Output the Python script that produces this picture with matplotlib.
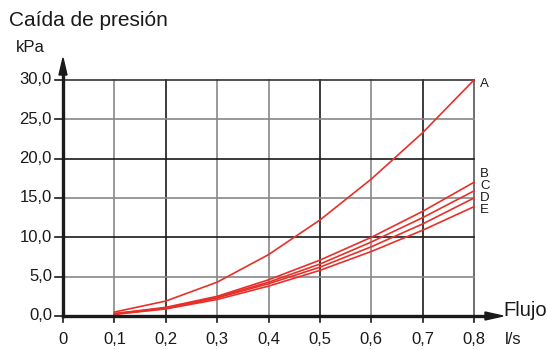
import matplotlib
matplotlib.use("Agg")
import matplotlib.pyplot as plt
from matplotlib.patches import Polygon

plt.rcParams['font.family'] = ['Liberation Sans', 'DejaVu Sans']

flow = [0.1, 0.2, 0.3, 0.4, 0.5, 0.6, 0.7, 0.8]
curve_a = [0.5, 1.9, 4.3, 7.8, 12.2, 17.4, 23.3, 30.0]
curve_b = [0.3, 1.1, 2.5, 4.6, 7.1, 10.0, 13.3, 17.0]
curve_c = [0.3, 1.0, 2.4, 4.3, 6.6, 9.4, 12.5, 15.9]
curve_d = [0.25, 0.95, 2.3, 4.1, 6.2, 8.8, 11.7, 15.0]
curve_e = [0.2, 0.9, 2.1, 3.8, 5.8, 8.2, 10.9, 13.9]
curves = {'A': curve_a, 'B': curve_b, 'C': curve_c, 'D': curve_d, 'E': curve_e}

x_ticks = [0, 0.1, 0.2, 0.3, 0.4, 0.5, 0.6, 0.7, 0.8]
x_tick_labels = ['0', '0,1', '0,2', '0,3', '0,4', '0,5', '0,6', '0,7', '0,8']
y_ticks = [0, 5, 10, 15, 20, 25, 30]
y_tick_labels = ['0,0', '5,0', '10,0', '15,0', '20,0', '25,0', '30,0']

W, H = 547, 349
fig = plt.figure(figsize=(W / 100, H / 100), dpi=100)
x0p, x1p, y0p, y1p = 63, 474, 316, 80
ax = fig.add_axes([x0p / W, 1 - y0p / H, (x1p - x0p) / W, (y0p - y1p) / H])
ax.set_xlim(0, 0.8)
ax.set_ylim(0, 30)
ax.axis('off')

vcol = {0.1: '#888888', 0.2: '#1a1a1a', 0.3: '#888888', 0.4: '#888888',
        0.5: '#1a1a1a', 0.6: '#888888', 0.7: '#1a1a1a', 0.8: '#555555'}
hcol = {5: '#888888', 10: '#1a1a1a', 15: '#888888', 20: '#1a1a1a',
        25: '#888888', 30: '#333333'}
for xv, c in vcol.items():
    ax.plot([xv, xv], [0, 30], color=c, lw=1.2, clip_on=False, zorder=1)
for yv, c in hcol.items():
    ax.plot([0, 0.8], [yv, yv], color=c, lw=1.2, clip_on=False, zorder=1)

red = '#e8302a'
for name, vals in curves.items():
    ax.plot(flow, vals, color=red, lw=1.2, clip_on=False, zorder=3)

# axes lines with arrows
ppx = 0.8 / (x1p - x0p)
ppy = 30 / (y0p - y1p)
ytip = 30 + (y1p - 58) * ppy
xtip = 0.8 + (503 - x1p) * ppx
ax.plot([0, 0], [0, ytip - 14 * ppy], color='#1a1a1a', lw=2.4, clip_on=False, zorder=4)
ax.plot([0, xtip - 16 * ppx], [0, 0], color='#1a1a1a', lw=2.4, clip_on=False, zorder=4)
ax.add_patch(Polygon([[0, ytip], [-4 * ppx, ytip - 17 * ppy], [4 * ppx, ytip - 17 * ppy]],
                     closed=True, color='#1a1a1a', clip_on=False, zorder=5))
ax.add_patch(Polygon([[xtip, 0], [xtip - 18 * ppx, 4 * ppy], [xtip - 18 * ppx, -4 * ppy]],
                     closed=True, color='#1a1a1a', clip_on=False, zorder=5))

# ticks
for yv, lab in zip(y_ticks, y_tick_labels):
    ax.plot([-8 * ppx, 0], [yv, yv], color='#1a1a1a', lw=1.2, clip_on=False, zorder=4)
    ax.text(-11 * ppx, yv, lab, ha='right', va='center', fontsize=12, color='#1a1a1a')
for xv, lab in zip(x_ticks, x_tick_labels):
    ax.plot([xv, xv], [0, -6 * ppy], color='#1a1a1a', lw=1.2, clip_on=False, zorder=4)
    ax.text(xv, -24 * ppy, lab, ha='center', va='center', fontsize=12, color='#1a1a1a')

# curve labels
label_y = {'A': 84, 'B': 174, 'C': 186, 'D': 198, 'E': 210}
for name, py in label_y.items():
    ax.text(0.8 + 6 * ppx, 30 - (py - y1p) * ppy, name, ha='left', va='center',
            fontsize=9.5, color='#1a1a1a')

fig.text(9 / W, 1 - 20 / H, 'Caída de presión', ha='left', va='center', fontsize=15, color='#1a1a1a')
fig.text(16 / W, 1 - 47 / H, 'kPa', ha='left', va='center', fontsize=12, color='#1a1a1a')
fig.text(503 / W, 1 - 311 / H, 'Flujo', ha='left', va='center', fontsize=14.5, color='#1a1a1a')
fig.text(505 / W, 1 - 340 / H, 'l/s', ha='left', va='center', fontsize=12, color='#1a1a1a')

fig.savefig('out.png', dpi=100)
